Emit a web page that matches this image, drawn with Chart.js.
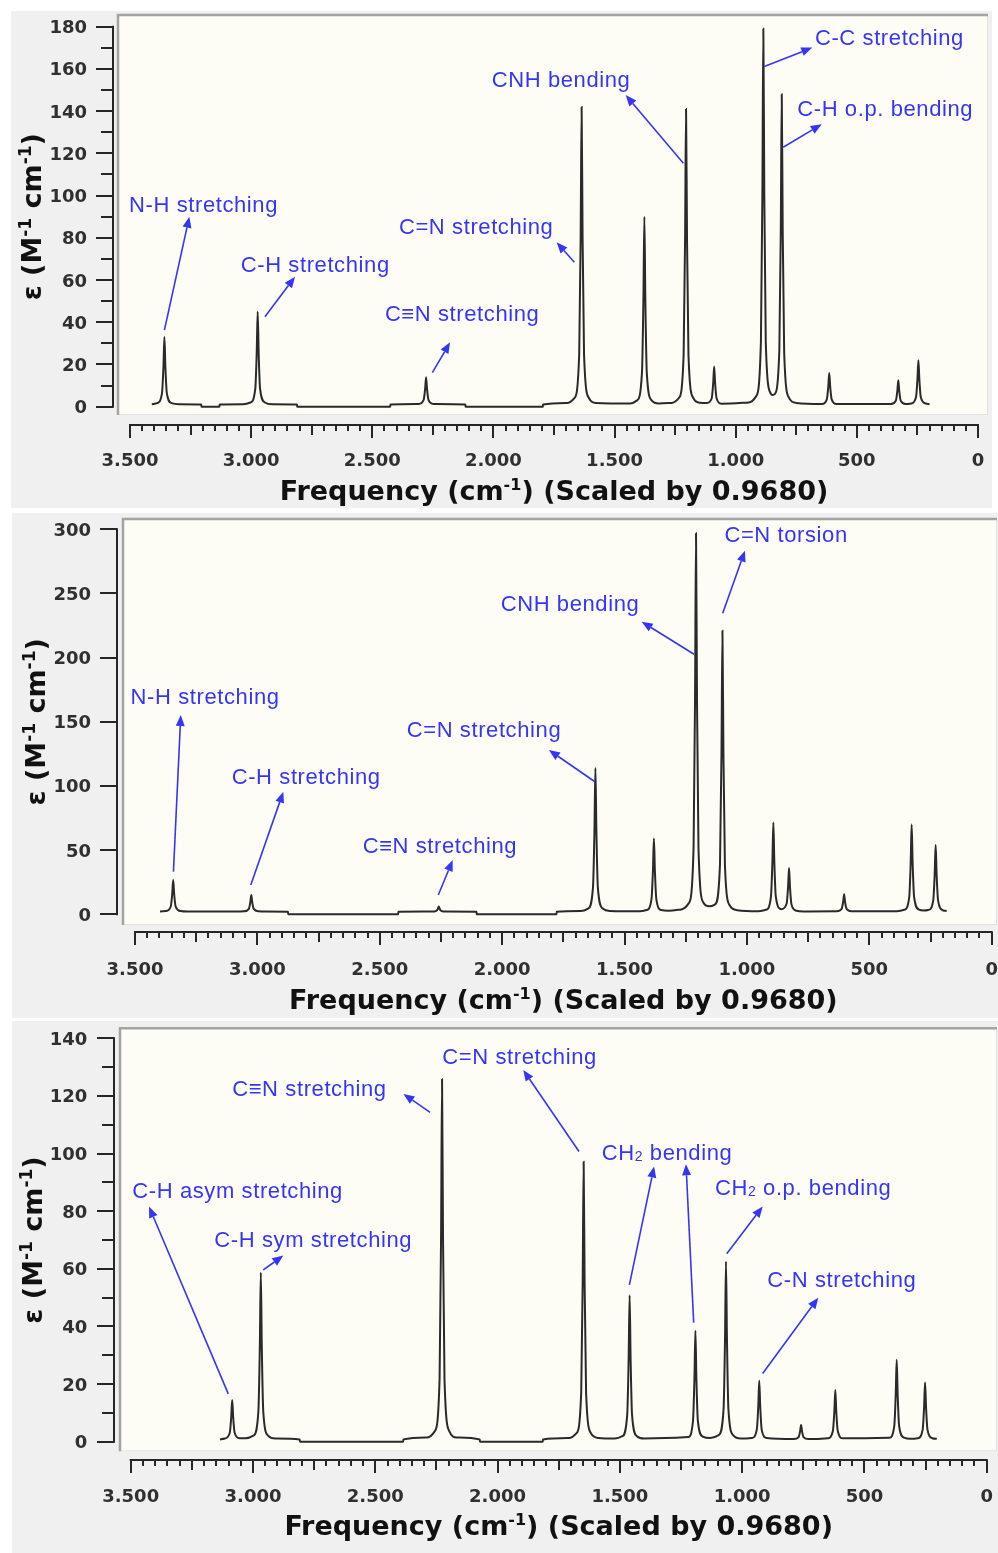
<!DOCTYPE html>
<html><head><meta charset="utf-8">
<script src="https://cdn.jsdelivr.net/npm/chart.js@4.4.1/dist/chart.umd.min.js"></script>
<style>
html,body{margin:0;padding:0;background:#fff;}
body{width:998px;height:1553px;position:relative;overflow:hidden;}
canvas{position:absolute;left:0;}
</style></head><body>
<canvas id="c1" width="998" height="510" style="top:0px"></canvas>
<canvas id="c2" width="998" height="509" style="top:510px"></canvas>
<canvas id="c3" width="998" height="534" style="top:1019px"></canvas>
<script>
// ---------- DATA ----------
const xTicks = [3500, 3000, 2500, 2000, 1500, 1000, 500, 0];
const xTickLabels = ['3.500', '3.000', '2.500', '2.000', '1.500', '1.000', '500', '0'];

const yTicks1 = [0, 20, 40, 60, 80, 100, 120, 140, 160, 180];
const yTicks2 = [0, 50, 100, 150, 200, 250, 300];
const yTicks3 = [0, 20, 40, 60, 80, 100, 120, 140];

// Panel 1 spectrum
const freq1 = [3410, 3388,3368,3362,3358,3354,3348,3328,3298, 3206,3205,3131,3130,
  3033,3003,2983,2977,2973,2969,2963,2943,2913, 2811,2810,2426,2425,
  2308,2288,2282,2278,2274,2268,2248, 2116,2115,1796,1795,
  1696,1666,1646,1640,1636,1632,1626,1606,1576,
  1437,1407,1387,1381,1377,1373,1367,1347,1317,
  1265,1235,1215,1209,1205,1201,1195,1175,1147,
  1119,1099,1093,1089,1085,1079,1059,
  946,916,896,890,886,882,876,856,848,
  840,820,814,810,806,800,780,750,
  644,624,618,614,610,604,584,
  359,339,333,329,325,319,299,288,
  276,256,250,246,242,236,216,200];
const eps1 = [1.2, 1.7,6.4,18.9,33,18.9,6.4,1.7,1.2, 1,0,0,1,
  1.2,2.0,8.4,25.6,45,25.6,8.4,2.0,1.2, 1,0,0,1,
  1.3,3.2,8.3,14,8.3,3.2,1.3, 1,0,0,1,
  1.8,4.1,24.7,80,142,80,24.7,4.1,1.8,
  1.5,3.0,16,50.8,90,50.8,16,3.0,1.5,
  1.8,4.1,24.5,79.4,141,79.4,24.5,4.1,1.9,
  1.8,4.0,11.1,19,11.1,4.0,1.4,
  2.0,4.9,30.7,100,179,100,30.7,6.3,5.5,
  5.9,26.5,83,148,83,25.7,4.2,1.8,
  1.3,3.5,9.4,16,9.4,3.5,1.3,
  1.3,2.9,7.4,12.5,7.4,2.9,1.3,1.3,
  1.5,4.5,12.8,22,12.8,4.5,1.5,1.2];

// Panel 2 spectrum
const freq2 = [3398, 3374,3354,3348,3344,3340,3334,3314,3284,
  3085,3055,3035,3029,3025,3021,3015,2995,2965, 2875,2874,2425,2424,
  2289,2269,2263,2259,2255,2249,2229, 2105,2104,1778,1777,
  1679,1649,1629,1623,1619,1615,1609,1589,1559,
  1440,1410,1390,1384,1380,1376,1370,1350,1320,
  1268,1238,1218,1212,1208,1204,1198,1178,1154,
  1130,1110,1104,1100,1096,1090,1070,1040,
  952,922,902,896,892,888,882,860,
  838,832,828,824,818,798,768,
  633,613,607,603,599,593,573,
  387,357,337,331,327,323,317,297,278,
  259,239,233,229,225,219,199,184];
const eps2 = [2.2, 2.5,6.1,15.8,26.7,15.8,6.1,2.5,2.1,
  2.1,2.3,4.2,9.3,15,9.3,4.2,2.3,2.1, 2,0,0,2,
  2.1,2.7,4.2,6,4.2,2.7,2.1, 2,0,0,2,
  2.6,4.5,20.8,64.7,114,64.7,20.8,4.5,2.6,
  2.3,3.3,11.6,33.9,59,33.9,11.6,3.3,2.8,
  3.8,8.5,51.6,167,297,167,52,9.2,6.2,
  7.8,39.4,124.6,221,124.6,38.8,6.8,3.2,
  2.4,3.5,13.6,40.6,71.5,40.6,13.8,4.0,
  8.2,21,36,21,7.7,2.8,2.2,
  2.3,4.3,9.6,15.6,9.6,4.3,2.3,
  2.4,3.5,13.4,40,70,40,13.5,3.7,3.0,
  3.4,10.7,31,54,31,10.7,3.1,2.6];

// Panel 3 spectrum
const freq3 = [3135, 3115,3095,3089,3085,3081,3075,3055,3030,
  2998,2978,2972,2968,2964,2958,2938,2908, 2809,2808,2386,2385,
  2287,2257,2237,2231,2227,2223,2217,2197,2167, 2073,2072,1815,1814,
  1708,1678,1658,1652,1648,1644,1638,1618,1588,
  1520,1490,1470,1464,1460,1456,1450,1430,1400,
  1221,1201,1195,1191,1187,1181,1161,1130,
  1096,1076,1070,1066,1062,1056,1036,1006,
  960,940,934,930,926,920,900,
  789,769,763,759,755,749,729,
  649,629,623,619,615,609,589,
  398,378,372,368,364,358,338,310,
  282,262,256,252,248,242,222,204];
const eps3 = [0.8, 1.1,3.1,8.5,14.5,8.5,3.1,1.2,1.2,
  2.1,10.5,33.2,58.7,33.2,10.5,2.1,1.1, 0.8,0,0,0.8,
  1.5,3.6,21.8,70.8,125.8,70.8,21.8,3.6,1.5, 0.8,0,0,0.8,
  1.3,2.9,17,54.8,97.2,54.8,17,2.9,1.3,
  1.1,1.9,9.2,28.8,50.8,28.8,9.2,1.9,1.1,
  1.6,7.1,21.9,38.5,21.9,7.2,1.8,1.3,
  2.3,11.2,35.4,62.5,35.4,11.2,2.2,1.1,
  1.3,4.2,12.2,21.2,12.2,4.2,1.3,
  0.9,1.6,3.6,5.8,3.6,1.6,0.9,
  1.2,3.7,10.4,17.9,10.4,3.7,1.2,
  1.4,5.4,16.3,28.4,16.3,5.4,1.4,1.0,
  1.2,4.1,11.9,20.6,11.9,4.1,1.2,1.0];

// Annotations (text anchored at data coords; arrows from peak to label)
const notes1 = [
  {text:[{t:'N-H stretching'}], x:3504, y:96.0, arrows:[[[3358,36.3],[3255,90.0]]]},
  {text:[{t:'C-H stretching'}], x:3043, y:67.6, arrows:[[[2943,42.6],[2819,61.6]]]},
  {text:[{t:'C\u2261N stretching'}], x:2448, y:44.2, arrows:[[[2252,16.1],[2179,30.5]]]},
  {text:[{t:'C=N stretching'}], x:2390, y:85.6, arrows:[[[1666,68.4],[1739,77.9]]]},
  {text:[{t:'CNH bending'}], x:2007, y:155.2, arrows:[[[1216,115.3],[1454,147.6]]]},
  {text:[{t:'C-C stretching'}], x:673, y:175.3, arrows:[[[882,161.1],[684,170.1]]]},
  {text:[{t:'C-H o.p. bending'}], x:746, y:141.6, arrows:[[[804,122.9],[645,133.8]]]}
];
const notes2 = [
  {text:[{t:'N-H stretching'}], x:3518, y:170.3, arrows:[[[3343,33.2],[3313,155.3]]]},
  {text:[{t:'C-H stretching'}], x:3105, y:108, arrows:[[[3027,22.8],[2894,95.5]]]},
  {text:[{t:'C\u2261N stretching'}], x:2570, y:54, arrows:[[[2261,15],[2202,42.3]]]},
  {text:[{t:'C=N stretching'}], x:2390, y:144.4, arrows:[[[1621,103.3],[1809,128]]]},
  {text:[{t:'CNH bending'}], x:2006, y:242.3, arrows:[[[1216,202.6],[1430,228]]]},
  {text:[{t:'C=N torsion'}], x:1092, y:296.1, arrows:[[[1099,234.6],[1008,283.3]]]}
];
const notes3 = [
  {text:[{t:'C-H asym stretching'}], x:3493.5, y:87.4, arrows:[[[3101,16.6],[3425,81.6]]]},
  {text:[{t:'C-H sym stretching'}], x:3158, y:70.3, arrows:[[[2958,59.6],[2876,64.6]]]},
  {text:[{t:'C\u2261N stretching'}], x:3085, y:122.9, arrows:[[[2276,114.3],[2385,120.7]]]},
  {text:[{t:'C=N stretching'}], x:2226, y:133.9, arrows:[[[1667,100.7],[1895,129]]]},
  {text:[{t:'CH'},{t:'2',sub:true},{t:' bending'}], x:1574, y:100.5,
    arrows:[[[1461,54.4],[1360,95.5]], [[1198,41.3],[1229.5,96.3]]]},
  {text:[{t:'CH'},{t:'2',sub:true},{t:' o.p. bending'}], x:1111, y:88.5, arrows:[[[1063,65.2],[916,81.6]]]},
  {text:[{t:'C-N stretching'}], x:897, y:56.4, arrows:[[[916,23.7],[688.5,50]]]}
];

// ---------- LAYOUT (canvas-local pixels) ----------
const panels = [
  {id:'c1', h:510, freq:freq1, eps:eps1, yMax:180, yTicks:yTicks1, yMinor:10, notes:notes1,
   area:{l:130, r:978, t:26.7, b:406.7}, bg:[11,11,981,497], box:[117,14,871,401],
   yAxisX:113, xAxisY:425, yLabelR:87, xLabelBase:466, xTitleBase:500, yTitleBase:41},
  {id:'c2', h:509, freq:freq2, eps:eps2, yMax:300, yTicks:yTicks2, yMinor:0, notes:notes2,
   area:{l:135, r:991.7, t:19.3, b:404.3}, bg:[12,3,986,505], box:[122,8,875,407],
   yAxisX:117, xAxisY:421.7, yLabelR:91, xLabelBase:465, xTitleBase:499, yTitleBase:45},
  {id:'c3', h:534, freq:freq3, eps:eps3, yMax:140, yTicks:yTicks3, yMinor:10, notes:notes3,
   area:{l:130.7, r:986.7, t:19.3, b:422.7}, bg:[12,2,986,532], box:[119,8.3,878,424],
   yAxisX:114, xAxisY:441, yLabelR:87.3, xLabelBase:482.7, xTitleBase:516, yTitleBase:42}
];

const BLUE = '#3535f8';
const NOTE_FONT = '"Liberation Sans", Arial, sans-serif';
const AX_FONT = '"DejaVu Sans", Verdana, sans-serif';

function segFont(s, base) {
  return (base.weight || '') + ' ' + (s.sub || s.sup ? base.small : base.size) + 'px ' + base.family;
}
function richWidth(ctx, segs, base) {
  let w = 0;
  segs.forEach(s => { ctx.font = segFont(s, base); w += ctx.measureText(s.t).width; });
  return w;
}
function drawRich(ctx, segs, x, y, base, align) {
  const w = richWidth(ctx, segs, base);
  let cx = align === 'center' ? x - w / 2 : x;
  ctx.textAlign = 'left';
  ctx.textBaseline = 'alphabetic';
  segs.forEach(s => {
    ctx.font = segFont(s, base);
    const dy = s.sup ? -base.supRise : (s.sub ? base.subDrop : 0);
    ctx.fillText(s.t, cx, y + dy);
    cx += ctx.measureText(s.t).width;
  });
}
function arrow(ctx, x1, y1, x2, y2) {
  const ang = Math.atan2(y2 - y1, x2 - x1);
  const L = 11, W = 4.5;
  const bx = x2 - L * Math.cos(ang), by = y2 - L * Math.sin(ang);
  ctx.beginPath();
  ctx.moveTo(x1, y1); ctx.lineTo(bx, by);
  ctx.stroke();
  ctx.beginPath();
  ctx.moveTo(x2, y2);
  ctx.lineTo(bx + W * Math.sin(ang), by - W * Math.cos(ang));
  ctx.lineTo(bx - W * Math.sin(ang), by + W * Math.cos(ang));
  ctx.closePath();
  ctx.fill();
}

const decor = {
  id: 'decor',
  beforeDraw(chart) {
    const p = chart.options.plugins.decor.panel;
    const ctx = chart.ctx;
    ctx.save();
    ctx.fillStyle = '#f0f0f0';
    ctx.fillRect(p.bg[0], p.bg[1], p.bg[2], p.bg[3]);
    const [bx, by, bw, bh] = p.box;
    ctx.fillStyle = '#fdfdf5';
    ctx.fillRect(bx, by, bw, bh);
    ctx.strokeStyle = '#e2e2e2';
    ctx.lineWidth = 1;
    ctx.strokeRect(bx + 0.5, by + 0.5, bw - 1, bh - 1);
    ctx.strokeStyle = '#a3a3a3';
    ctx.lineWidth = 2.5;
    ctx.beginPath();
    ctx.moveTo(bx + 1, by + bh); ctx.lineTo(bx + 1, by + 1); ctx.lineTo(bx + bw, by + 1);
    ctx.stroke();
    ctx.restore();
  },
  afterDraw(chart) {
    const p = chart.options.plugins.decor.panel;
    const ctx = chart.ctx;
    const xs = chart.scales.x, ys = chart.scales.y;
    ctx.save();
    // ---- x axis ----
    ctx.strokeStyle = '#262626';
    ctx.lineWidth = 2;
    const xa = Math.round(p.xAxisY);
    ctx.beginPath();
    ctx.moveTo(xs.getPixelForValue(3500) - 1, xa);
    ctx.lineTo(xs.getPixelForValue(0) + 1, xa);
    ctx.stroke();
    for (let v = 0; v <= 3500; v += 50) {
      const px = Math.round(xs.getPixelForValue(v));
      const len = v % 500 === 0 ? 13 : (v % 250 === 0 ? 10 : 6);
      ctx.lineWidth = 2;
      ctx.beginPath();
      ctx.moveTo(px, xa); ctx.lineTo(px, xa + len);
      ctx.stroke();
    }
    ctx.fillStyle = '#303030';
    ctx.font = 'bold 18px ' + AX_FONT;
    ctx.textAlign = 'center';
    ctx.textBaseline = 'alphabetic';
    xTicks.forEach((v, i) => ctx.fillText(xTickLabels[i], xs.getPixelForValue(v), p.xLabelBase));
    // ---- y axis ----
    const ya = Math.round(p.yAxisX);
    const y0 = ys.getPixelForValue(0), y1 = ys.getPixelForValue(p.yMax);
    ctx.lineWidth = 2;
    ctx.beginPath();
    ctx.moveTo(ya, y0 + 1); ctx.lineTo(ya, y1 - 1);
    ctx.stroke();
    if (p.yMinor) {
      for (let v = p.yMinor; v < p.yMax; v += 2 * p.yMinor) {
        const py = Math.round(ys.getPixelForValue(v));
        ctx.beginPath(); ctx.moveTo(ya - 12, py); ctx.lineTo(ya, py); ctx.stroke();
      }
    }
    p.yTicks.forEach(v => {
      const py = Math.round(ys.getPixelForValue(v));
      ctx.beginPath(); ctx.moveTo(ya - 17, py); ctx.lineTo(ya, py); ctx.stroke();
    });
    ctx.textAlign = 'right';
    p.yTicks.forEach(v => ctx.fillText(String(v), p.yLabelR, ys.getPixelForValue(v) + 6.5));
    // ---- axis titles ----
    ctx.fillStyle = '#111';
    const xTitle = [{t:'Frequency (cm'}, {t:'-1', sup:true}, {t:') (Scaled by 0.9680)'}];
    drawRich(ctx, xTitle, (xs.getPixelForValue(3500) + xs.getPixelForValue(0)) / 2, p.xTitleBase,
      {weight:'bold', size:27, small:16, family:AX_FONT, supRise:10}, 'center');
    ctx.save();
    ctx.translate(p.yTitleBase, (y0 + y1) / 2);
    ctx.rotate(-Math.PI / 2);
    const yTitle = [{t:'\u03b5 (M'}, {t:'-1', sup:true}, {t:' cm'}, {t:'-1', sup:true}, {t:')'}];
    drawRich(ctx, yTitle, 0, 0, {weight:'bold', size:27, small:17, family:AX_FONT, supRise:10}, 'center');
    ctx.restore();
    // ---- annotations ----
    ctx.fillStyle = BLUE;
    ctx.strokeStyle = BLUE;
    ctx.lineWidth = 1.6;
    try { ctx.letterSpacing = '0.6px'; } catch (e) {}
    p.notes.forEach(n => {
      drawRich(ctx, n.text, xs.getPixelForValue(n.x), ys.getPixelForValue(n.y) + 8,
        {weight:'', size:22, small:14, family:NOTE_FONT, subDrop:1}, 'left');
      n.arrows.forEach(a => arrow(ctx,
        xs.getPixelForValue(a[0][0]), ys.getPixelForValue(a[0][1]),
        xs.getPixelForValue(a[1][0]), ys.getPixelForValue(a[1][1])));
    });
    try { ctx.letterSpacing = '0px'; } catch (e) {}
    ctx.restore();
  }
};

panels.forEach(p => {
  const ctx = document.getElementById(p.id).getContext('2d');
  new Chart(ctx, {
    type: 'line',
    data: {
      datasets: [{
        data: p.freq.map((f, i) => ({x: f, y: p.eps[i]})),
        borderColor: '#2a2a2a',
        borderWidth: 2,
        pointRadius: 0,
        fill: false,
        cubicInterpolationMode: 'monotone',
        clip: false
      }]
    },
    options: {
      responsive: false,
      animation: false,
      devicePixelRatio: 1,
      layout: {padding: {left: p.area.l, right: 998 - p.area.r, top: p.area.t, bottom: p.h - p.area.b}},
      scales: {
        x: {type: 'linear', min: 0, max: 3500, reverse: true, display: false},
        y: {type: 'linear', min: 0, max: p.yMax, display: false}
      },
      plugins: {legend: {display: false}, tooltip: {enabled: false}, decor: {panel: p}}
    },
    plugins: [decor]
  });
});
</script>
</body></html>
